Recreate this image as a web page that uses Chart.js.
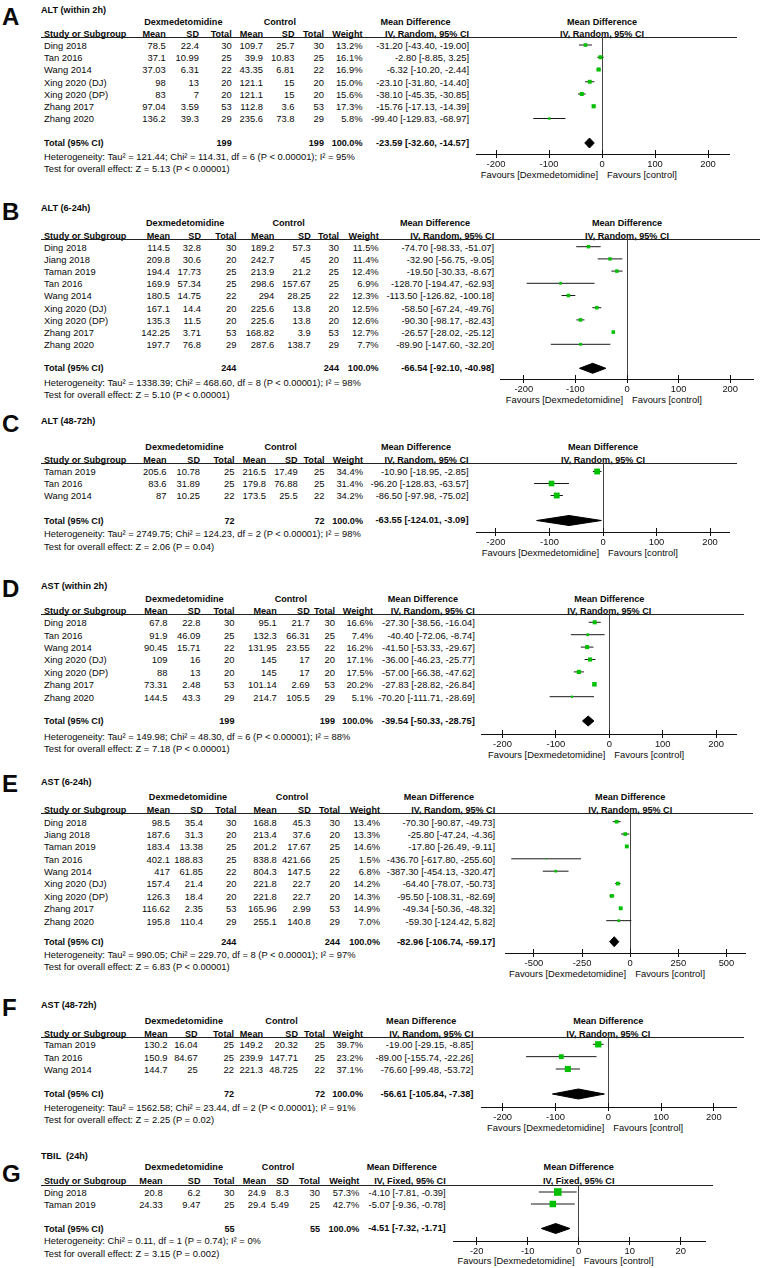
<!DOCTYPE html>
<html><head><meta charset="utf-8">
<script src="https://cdn.jsdelivr.net/npm/chart.js@4.4.1/dist/chart.umd.min.js"></script>
<style>
html,body{margin:0;padding:0;background:#fff;}
#page{position:relative;width:761px;height:1268px;overflow:hidden;font-family:'Liberation Sans',Arial,sans-serif;color:#0a0a0a;}
.t{position:absolute;white-space:pre;line-height:1;}
.b{font-weight:bold;}
.hl{position:absolute;height:1px;background:#222;}
canvas{position:absolute;}
</style></head><body><div id="page"></div>
<script>
// ---------------- DATA ----------------
// Panel A: ALT (within 2h)
const A_study   = ["Ding 2018","Tan 2016","Wang 2014","Xing 2020 (DJ)","Xing 2020 (DP)","Zhang 2017","Zhang 2020"];
const A_dexMean = [78.5, 37.1, 37.03, 98, 83, 97.04, 136.2];
const A_dexSD   = [22.4, 10.99, 6.31, 13, 7, 3.59, 39.3];
const A_dexN    = [30, 25, 22, 20, 20, 53, 29];
const A_ctlMean = [109.7, 39.9, 43.35, 121.1, 121.1, 112.8, 235.6];
const A_ctlSD   = [25.7, 10.83, 6.81, 15, 15, 3.6, 73.8];
const A_ctlN    = [30, 25, 22, 20, 20, 53, 29];
const A_weight  = [13.2, 16.1, 16.9, 15.0, 15.6, 17.3, 5.8];
const A_md      = [-31.20, -2.80, -6.32, -23.10, -38.10, -15.76, -99.40];
const A_lo      = [-43.40, -8.85, -10.20, -31.80, -45.35, -17.13, -129.83];
const A_hi      = [-19.00, 3.25, -2.44, -14.40, -30.85, -14.39, -68.97];
const A_pooled  = [-23.59, -32.60, -14.57];
const A_ticks   = [-200, -100, 0, 100, 200];
const A_het  = "Heterogeneity: Tau² = 121.44; Chi² = 114.31, df = 6 (P < 0.00001); I² = 95%";
const A_test = "Test for overall effect: Z = 5.13 (P < 0.00001)";

// Panel B: ALT (6-24h)
const B_study   = ["Ding 2018","Jiang 2018","Taman 2019","Tan 2016","Wang 2014","Xing 2020 (DJ)","Xing 2020 (DP)","Zhang 2017","Zhang 2020"];
const B_dexMean = [114.5, 209.8, 194.4, 169.9, 180.5, 167.1, 135.3, 142.25, 197.7];
const B_dexSD   = [32.8, 30.6, 17.73, 57.34, 14.75, 14.4, 11.5, 3.71, 76.8];
const B_dexN    = [30, 20, 25, 25, 22, 20, 20, 53, 29];
const B_ctlMean = [189.2, 242.7, 213.9, 298.6, 294, 225.6, 225.6, 168.82, 287.6];
const B_ctlSD   = [57.3, 45, 21.2, 157.67, 28.25, 13.8, 13.8, 3.9, 138.7];
const B_ctlN    = [30, 20, 25, 25, 22, 20, 20, 53, 29];
const B_weight  = [11.5, 11.4, 12.4, 6.9, 12.3, 12.5, 12.6, 12.7, 7.7];
const B_md      = [-74.70, -32.90, -19.50, -128.70, -113.50, -58.50, -90.30, -26.57, -89.90];
const B_lo      = [-98.33, -56.75, -30.33, -194.47, -126.82, -67.24, -98.17, -28.02, -147.60];
const B_hi      = [-51.07, -9.05, -8.67, -62.93, -100.18, -49.76, -82.43, -25.12, -32.20];
const B_pooled  = [-66.54, -92.10, -40.98];
const B_ticks   = [-200, -100, 0, 100, 200];
const B_het  = "Heterogeneity: Tau² = 1338.39; Chi² = 468.60, df = 8 (P < 0.00001); I² = 98%";
const B_test = "Test for overall effect: Z = 5.10 (P < 0.00001)";

// Panel C: ALT (48-72h)
const C_study   = ["Taman 2019","Tan 2016","Wang 2014"];
const C_dexMean = [205.6, 83.6, 87];
const C_dexSD   = [10.78, 31.89, 10.25];
const C_dexN    = [25, 25, 22];
const C_ctlMean = [216.5, 179.8, 173.5];
const C_ctlSD   = [17.49, 76.88, 25.5];
const C_ctlN    = [25, 25, 22];
const C_weight  = [34.4, 31.4, 34.2];
const C_md      = [-10.90, -96.20, -86.50];
const C_lo      = [-18.95, -128.83, -97.98];
const C_hi      = [-2.85, -63.57, -75.02];
const C_pooled  = [-63.55, -124.01, -3.09];
const C_ticks   = [-200, -100, 0, 100, 200];
const C_het  = "Heterogeneity: Tau² = 2749.75; Chi² = 124.23, df = 2 (P < 0.00001); I² = 98%";
const C_test = "Test for overall effect: Z = 2.06 (P = 0.04)";

// Panel D: AST (within 2h)
const D_study   = ["Ding 2018","Tan 2016","Wang 2014","Xing 2020 (DJ)","Xing 2020 (DP)","Zhang 2017","Zhang 2020"];
const D_dexMean = [67.8, 91.9, 90.45, 109, 88, 73.31, 144.5];
const D_dexSD   = [22.8, 46.09, 15.71, 16, 13, 2.48, 43.3];
const D_dexN    = [30, 25, 22, 20, 20, 53, 29];
const D_ctlMean = [95.1, 132.3, 131.95, 145, 145, 101.14, 214.7];
const D_ctlSD   = [21.7, 66.31, 23.55, 17, 17, 2.69, 105.5];
const D_ctlN    = [30, 25, 22, 20, 20, 53, 29];
const D_weight  = [16.6, 7.4, 16.2, 17.1, 17.5, 20.2, 5.1];
const D_md      = [-27.30, -40.40, -41.50, -36.00, -57.00, -27.83, -70.20];
const D_lo      = [-38.56, -72.06, -53.33, -46.23, -66.38, -28.82, -111.71];
const D_hi      = [-16.04, -8.74, -29.67, -25.77, -47.62, -26.84, -28.69];
const D_pooled  = [-39.54, -50.33, -28.75];
const D_ticks   = [-200, -100, 0, 100, 200];
const D_het  = "Heterogeneity: Tau² = 149.98; Chi² = 48.30, df = 6 (P < 0.00001); I² = 88%";
const D_test = "Test for overall effect: Z = 7.18 (P < 0.00001)";

// Panel E: AST (6-24h)
const E_study   = ["Ding 2018","Jiang 2018","Taman 2019","Tan 2016","Wang 2014","Xing 2020 (DJ)","Xing 2020 (DP)","Zhang 2017","Zhang 2020"];
const E_dexMean = [98.5, 187.6, 183.4, 402.1, 417, 157.4, 126.3, 116.62, 195.8];
const E_dexSD   = [35.4, 31.3, 13.38, 188.83, 61.85, 21.4, 18.4, 2.35, 110.4];
const E_dexN    = [30, 20, 25, 25, 22, 20, 20, 53, 29];
const E_ctlMean = [168.8, 213.4, 201.2, 838.8, 804.3, 221.8, 221.8, 165.96, 255.1];
const E_ctlSD   = [45.3, 37.6, 17.67, 421.66, 147.5, 22.7, 22.7, 2.99, 140.8];
const E_ctlN    = [30, 20, 25, 25, 22, 20, 20, 53, 29];
const E_weight  = [13.4, 13.3, 14.6, 1.5, 6.8, 14.2, 14.3, 14.9, 7.0];
const E_md      = [-70.30, -25.80, -17.80, -436.70, -387.30, -64.40, -95.50, -49.34, -59.30];
const E_lo      = [-90.87, -47.24, -26.49, -617.80, -454.13, -78.07, -108.31, -50.36, -124.42];
const E_hi      = [-49.73, -4.36, -9.11, -255.60, -320.47, -50.73, -82.69, -48.32, 5.82];
const E_pooled  = [-82.96, -106.74, -59.17];
const E_ticks   = [-500, -250, 0, 250, 500];
const E_het  = "Heterogeneity: Tau² = 990.05; Chi² = 229.70, df = 8 (P < 0.00001); I² = 97%";
const E_test = "Test for overall effect: Z = 6.83 (P < 0.00001)";

// Panel F: AST (48-72h)
const F_study   = ["Taman 2019","Tan 2016","Wang 2014"];
const F_dexMean = [130.2, 150.9, 144.7];
const F_dexSD   = [16.04, 84.67, 25];
const F_dexN    = [25, 25, 22];
const F_ctlMean = [149.2, 239.9, 221.3];
const F_ctlSD   = [20.32, 147.71, 48.725];
const F_ctlN    = [25, 25, 22];
const F_weight  = [39.7, 23.2, 37.1];
const F_md      = [-19.00, -89.00, -76.60];
const F_lo      = [-29.15, -155.74, -99.48];
const F_hi      = [-8.85, -22.26, -53.72];
const F_pooled  = [-56.61, -105.84, -7.38];
const F_ticks   = [-200, -100, 0, 100, 200];
const F_het  = "Heterogeneity: Tau² = 1562.58; Chi² = 23.44, df = 2 (P < 0.00001); I² = 91%";
const F_test = "Test for overall effect: Z = 2.25 (P = 0.02)";

// Panel G: TBIL (24h)
const G_study   = ["Ding 2018","Taman 2019"];
const G_dexMean = [20.8, 24.33];
const G_dexSD   = [6.2, 9.47];
const G_dexN    = [30, 25];
const G_ctlMean = [24.9, 29.4];
const G_ctlSD   = [8.3, 5.49];
const G_ctlN    = [30, 25];
const G_weight  = [57.3, 42.7];
const G_md      = [-4.10, -5.07];
const G_lo      = [-7.81, -9.36];
const G_hi      = [-0.39, -0.78];
const G_pooled  = [-4.51, -7.32, -1.71];
const G_ticks   = [-20, -10, 0, 10, 20];
const G_het  = "Heterogeneity: Chi² = 0.11, df = 1 (P = 0.74); I² = 0%";
const G_test = "Test for overall effect: Z = 3.15 (P = 0.002)";

// ---------------- PANEL TABLE (built from the arrays) ----------------
const PANELS = [
 {key:'A', title:'ALT (within 2h)', method:'IV, Random, 95% CI', study:A_study, dm:A_dexMean, ds:A_dexSD, dn:A_dexN, cm:A_ctlMean, cs:A_ctlSD, cn:A_ctlN, w:A_weight, md:A_md, lo:A_lo, hi:A_hi, pooled:A_pooled, ticks:A_ticks, het:A_het, test:A_test},
 {key:'B', title:'ALT (6-24h)', method:'IV, Random, 95% CI', study:B_study, dm:B_dexMean, ds:B_dexSD, dn:B_dexN, cm:B_ctlMean, cs:B_ctlSD, cn:B_ctlN, w:B_weight, md:B_md, lo:B_lo, hi:B_hi, pooled:B_pooled, ticks:B_ticks, het:B_het, test:B_test},
 {key:'C', title:'ALT (48-72h)', method:'IV, Random, 95% CI', study:C_study, dm:C_dexMean, ds:C_dexSD, dn:C_dexN, cm:C_ctlMean, cs:C_ctlSD, cn:C_ctlN, w:C_weight, md:C_md, lo:C_lo, hi:C_hi, pooled:C_pooled, ticks:C_ticks, het:C_het, test:C_test},
 {key:'D', title:'AST (within 2h)', method:'IV, Random, 95% CI', study:D_study, dm:D_dexMean, ds:D_dexSD, dn:D_dexN, cm:D_ctlMean, cs:D_ctlSD, cn:D_ctlN, w:D_weight, md:D_md, lo:D_lo, hi:D_hi, pooled:D_pooled, ticks:D_ticks, het:D_het, test:D_test},
 {key:'E', title:'AST (6-24h)', method:'IV, Random, 95% CI', study:E_study, dm:E_dexMean, ds:E_dexSD, dn:E_dexN, cm:E_ctlMean, cs:E_ctlSD, cn:E_ctlN, w:E_weight, md:E_md, lo:E_lo, hi:E_hi, pooled:E_pooled, ticks:E_ticks, het:E_het, test:E_test},
 {key:'F', title:'AST (48-72h)', method:'IV, Random, 95% CI', study:F_study, dm:F_dexMean, ds:F_dexSD, dn:F_dexN, cm:F_ctlMean, cs:F_ctlSD, cn:F_ctlN, w:F_weight, md:F_md, lo:F_lo, hi:F_hi, pooled:F_pooled, ticks:F_ticks, het:F_het, test:F_test},
 {key:'G', title:'TBIL  (24h)', method:'IV, Fixed, 95% CI', study:G_study, dm:G_dexMean, ds:G_dexSD, dn:G_dexN, cm:G_ctlMean, cs:G_ctlSD, cn:G_ctlN, w:G_weight, md:G_md, lo:G_lo, hi:G_hi, pooled:G_pooled, ticks:G_ticks, het:G_het, test:G_test}
];

// ---------------- LAYOUT (positions only) ----------------
const LAYOUT = {
 A:{letterY:16.5, titleY:10.7, h1Y:22.3, h2Y:34, lineY:37, row0:45, step:12.25, totalY:143, axisY:154, hetY:156.7, testY:168.3,
    cols:[165.7,199,231.7,263,294.5,324,362.5,469], heads:[183.3,279.8,415.5], zeroX:602, ppu:0.53, L:476, R:729},
 B:{letterY:211.7, titleY:208, h1Y:223.3, h2Y:236, lineY:239.3, row0:246.7, step:12.2, totalY:368.3, axisY:379, hetY:382.3, testY:394.3,
    cols:[170,201,236.4,274.3,310.7,339,378.7,494.2], heads:[185.2,288.6,435], zeroX:627, ppu:0.516, L:500, R:752.5},
 C:{letterY:424, titleY:421.7, h1Y:447.3, h2Y:460.7, lineY:463.3, row0:471.5, step:12, totalY:520.5, axisY:532, hetY:534, testY:547,
    cols:[166.5,200,234.5,266,297.6,324.5,363,468.5], heads:[184.5,280.6,416], zeroX:603, ppu:0.535, L:476, R:729},
 D:{letterY:589, titleY:586.7, h1Y:599.3, h2Y:611.7, lineY:614, row0:622.3, step:12.4, totalY:721, axisY:734, hetY:736.5, testY:748.5,
    cols:[167.5,200.5,234.5,276.7,309.7,335,373,474.8], heads:[184.5,290.8,422.9], zeroX:609.3, ppu:0.534, L:480.6, R:735.5},
 E:{letterY:784, titleY:782.7, h1Y:797.3, h2Y:810.7, lineY:813.3, row0:821.7, step:12.37, totalY:941.7, axisY:953.3, hetY:955, testY:966.7,
    cols:[170,203,236.4,276.7,310.7,340,380,495.2], heads:[188,292,438.9], zeroX:630.2, ppu:0.1925, L:505, R:745},
 F:{letterY:1007.5, titleY:1005.7, h1Y:1021, h2Y:1034, lineY:1036.7, row0:1044.3, step:12.35, totalY:1094, axisY:1106.7, hetY:1107.3, testY:1120,
    cols:[167.5,197.6,234,263,298,325,363,473.4], heads:[183.8,281.5,421.2], zeroX:608.3, ppu:0.528, L:481, R:735.5},
 G:{letterY:1174, titleY:1156.7, h1Y:1167.7, h2Y:1181, lineY:1185, row0:1192, step:12, totalY:1228.5, axisY:1240.5, hetY:1241, testY:1254,
    cols:[162.6,200.5,234.5,266,288.9,320,359.3,445.7], heads:[183.8,278,401.8], zeroX:578.7, ppu:5.1, L:452.7, R:705}
};
const STUDY_X = 44, TITLE_X = 41;
const FS = 9.4, FSH = 9.1;
const GREEN = '#00c000';
const FONT = "'Liberation Sans', Arial, sans-serif";

// ticks that cross the axis line (upper half), drawn through the x scale
const crossTicks = {
  id:'crossTicks',
  afterDraw(chart) {
    const s = chart.scales.x, ctx = chart.ctx;
    ctx.save();
    ctx.strokeStyle = '#111'; ctx.lineWidth = 1;
    s.ticks.forEach(t => {
      const px = Math.round(s.getPixelForValue(t.value) - 0.5) + 0.5;
      ctx.beginPath(); ctx.moveTo(px, s.top - 4); ctx.lineTo(px, s.top); ctx.stroke();
    });
    ctx.restore();
  }
};

// ---------------- RENDER ----------------
const page = document.getElementById('page');
function T(x, y, s, align, bold, size) {
  const d = document.createElement('div');
  const fs = size || FS;
  d.className = 't' + (bold ? ' b' : '');
  d.style.fontSize = fs + 'px';
  d.style.top = (y - 0.49 * fs) + 'px';
  d.textContent = s;
  if (align === 'r') { d.style.right = (761 - x) + 'px'; d.style.textAlign = 'right'; }
  else if (align === 'c') { d.style.left = (x - 150) + 'px'; d.style.width = '300px'; d.style.textAlign = 'center'; }
  else { d.style.left = x + 'px'; }
  page.appendChild(d);
}
function ci(m, l, h) { return m.toFixed(2) + ' [' + l.toFixed(2) + ', ' + h.toFixed(2) + ']'; }

PANELS.forEach(P => {
  const Ly = LAYOUT[P.key];
  const c = Ly.cols;
  T(2, Ly.letterY, P.key, 'l', true, 24);
  T(TITLE_X, Ly.titleY, P.title, 'l', true, FSH);
  T(Ly.heads[0], Ly.h1Y, 'Dexmedetomidine', 'c', true, FSH);
  T(Ly.heads[1], Ly.h1Y, 'Control', 'c', true, FSH);
  T(Ly.heads[2], Ly.h1Y, 'Mean Difference', 'c', true, FSH);
  T(Ly.zeroX, Ly.h1Y, 'Mean Difference', 'c', true, FSH);
  T(STUDY_X, Ly.h2Y, 'Study or Subgroup', 'l', true, FSH);
  ['Mean','SD','Total','Mean','SD','Total','Weight',P.method].forEach((h, k) => T(c[k], Ly.h2Y, h, 'r', true, FSH));
  T(Ly.zeroX, Ly.h2Y, P.method, 'c', true, FSH);
  const hl = document.createElement('div');
  hl.className = 'hl';
  hl.style.left = '41px';
  hl.style.top = Math.round(Ly.lineY) + 'px';
  hl.style.width = (Math.min(Ly.R + 8, 760) - 41) + 'px';
  page.appendChild(hl);
  P.study.forEach((s, i) => {
    const y = Ly.row0 + i * Ly.step + 0.5;
    T(STUDY_X, y, s, 'l');
    const vals = [P.dm[i], P.ds[i], P.dn[i], P.cm[i], P.cs[i], P.cn[i]].map(String);
    vals.push(P.w[i].toFixed(1) + '%');
    vals.push(ci(P.md[i], P.lo[i], P.hi[i]));
    vals.forEach((v, k) => T(c[k], y, v, 'r'));
  });
  const ty = Ly.totalY + 0.5;
  T(STUDY_X, ty, 'Total (95% CI)', 'l', true, FSH);
  T(c[2], ty, String(P.dn.reduce((a, b) => a + b, 0)), 'r', true, FSH);
  T(c[5], ty, String(P.cn.reduce((a, b) => a + b, 0)), 'r', true, FSH);
  T(c[6], ty, '100.0%', 'r', true, FSH);
  T(c[7], ty, ci(P.pooled[0], P.pooled[1], P.pooled[2]), 'r', true, 9.3);
  T(STUDY_X, Ly.hetY, P.het, 'l');
  T(STUDY_X, Ly.testY, P.test, 'l');
  const fy = Ly.axisY + 20.5;
  T(Ly.zeroX - 4, fy, 'Favours [Dexmedetomidine]', 'r');
  T(Ly.zeroX + 5, fy, 'Favours [control]', 'l');

  // ---- Chart.js forest plot ----
  const padL = 15, padR = 15, padT = 6, axisH = 24;
  const Lr = Math.round(Ly.L), Rr = Math.round(Ly.R);
  const topR = Math.round(Ly.lineY), axR = Math.round(Ly.axisY);
  const W = (Rr - Lr) + padL + padR;
  const H = padT + (axR - topR) + axisH;
  const cv = document.createElement('canvas');
  cv.width = W; cv.height = H;
  cv.style.width = W + 'px'; cv.style.height = H + 'px';
  cv.style.left = (Lr - padL) + 'px';
  cv.style.top = (topR - padT) + 'px';
  page.appendChild(cv);

  const xmin = (Lr - Ly.zeroX) / Ly.ppu, xmax = (Rr - Ly.zeroX) / Ly.ppu;
  const ymin = (topR - Ly.row0) / Ly.step, ymax = (axR - Ly.row0) / Ly.step;
  const yt = (Ly.totalY - Ly.row0) / Ly.step, hh = 5 / Ly.step;

  const datasets = [];
  datasets.push({type:'scatter', data:P.md.map((m, i) => ({x:m, y:i})), pointStyle:'rect',
    pointRadius:P.w.map(w => Math.sqrt(w) / Math.SQRT2), backgroundColor:GREEN, borderWidth:0, order:0});
  P.lo.forEach((l, i) => datasets.push({type:'line', data:[{x:l, y:i}, {x:P.hi[i], y:i}],
    borderColor:'#1a1a1a', borderWidth:1, pointRadius:0, fill:false, order:1}));
  const pm = P.pooled;
  datasets.push({type:'line', data:[{x:pm[1], y:yt}, {x:pm[0], y:yt - hh}, {x:pm[2], y:yt}, {x:pm[0], y:yt + hh}, {x:pm[1], y:yt}],
    borderColor:'#000', backgroundColor:'#000', borderWidth:1, pointRadius:0, fill:'shape', tension:0, order:2});

  new Chart(cv, {
    type:'scatter',
    data:{datasets},
    plugins:[crossTicks],
    options:{
      animation:false, responsive:false, events:[],
      layout:{padding:{left:padL, right:padR, top:padT, bottom:0}},
      plugins:{legend:{display:false}, tooltip:{enabled:false}},
      scales:{
        x:{type:'linear', position:'bottom', min:xmin, max:xmax,
           afterBuildTicks: ax => { ax.ticks = P.ticks.map(v => ({value:v})); },
           afterFit: ax => { ax.height = axisH; },
           ticks:{autoSkip:false, maxRotation:0, minRotation:0, padding:1, color:'#111',
                  font:{family:FONT, size:FS}, callback: v => String(v)},
           grid:{display:true, drawOnChartArea:true, drawTicks:true, tickLength:4, lineWidth:1,
                 color: ctx => (ctx.tick && ctx.tick.value === 0) ? '#444' : 'rgba(0,0,0,0)', tickColor:'#111'},
           border:{display:true, color:'#111', width:1}},
        y:{type:'linear', reverse:true, min:ymin, max:ymax, display:false}
      }
    }
  });
});
</script></body></html>
